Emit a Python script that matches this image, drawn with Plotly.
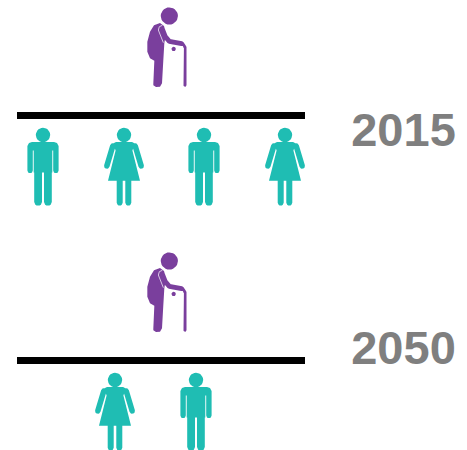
import math
import plotly.graph_objects as go

# ---- data ----
years = ["2015", "2050"]
elders_per_year = [1, 1]
workers_per_year = [["man", "woman", "man", "woman"], ["woman", "man"]]

# ---- layout ----
W, H = 467, 450
bar_y = [115.5, 360.5]
bar_x = [17, 305]
elder_x = 169
worker_x = [[43, 124, 204, 285], [115, 196]]
label_x = 403.5
label_y = [134.5, 352]
TEAL = "#1fbdb3"
PURPLE = "#7a3f9d"
GREY = "#7f7f7f"


def circle(cx, cy, r, n=28):
    return [(cx + r * math.cos(2 * math.pi * i / n), cy + r * math.sin(2 * math.pi * i / n)) for i in range(n + 1)]


def capsule(x0, y0, x1, y1, w, n=8):
    a = math.atan2(y1 - y0, x1 - x0)
    r = w / 2
    pts = []
    for i in range(n + 1):
        t = a - math.pi / 2 + math.pi * i / n
        pts.append((x1 + r * math.cos(t), y1 + r * math.sin(t)))
    for i in range(n + 1):
        t = a + math.pi / 2 + math.pi * i / n
        pts.append((x0 + r * math.cos(t), y0 + r * math.sin(t)))
    pts.append(pts[0])
    return pts


def polyline(pts, w):
    return [capsule(*pts[i], *pts[i + 1], w) for i in range(len(pts) - 1)]


def same_winding(part):
    area = sum(part[i][0] * part[i + 1][1] - part[i + 1][0] * part[i][1] for i in range(len(part) - 1))
    return part if area > 0 else part[::-1]


# glyph parts: offsets in px from (figure x, bar centre)
MAN = [
    circle(0, 19.5, 7.2),
    [(-11, 26.5), (11, 26.5), (14, 27.5), (15.6, 30.5), (15.6, 35), (-15.6, 35), (-15.6, 30.5), (-14, 27.5), (-11, 26.5)],
    [(-9.3, 30), (9.3, 30), (9.3, 57), (-9.3, 57), (-9.3, 30)],
    capsule(-12.9, 33, -12.9, 55, 5.4),
    capsule(12.9, 33, 12.9, 55, 5.4),
    capsule(-4.9, 54, -4.9, 86.4, 7.8),
    capsule(4.9, 54, 4.9, 86.4, 7.8),
]
WOMAN = [
    circle(0, 19.5, 7.2),
    [(-8, 26.5), (8, 26.5), (11, 28), (8.4, 35), (16, 65.2), (-16, 65.2), (-8.4, 35), (-11, 28), (-8, 26.5)],
    capsule(-11.2, 30.5, -17.2, 50.5, 5.6),
    capsule(11.2, 30.5, 17.2, 50.5, 5.6),
    capsule(-4.3, 62, -4.3, 87.2, 6),
    capsule(4.3, 62, 4.3, 87.2, 6),
]
E = lambda zx, zy: (zx / 3 + 130 - elder_x, zy / 3 - 115.5)
ELDER_BODY = [
    [E(*p) for p in [(90, 69), (72, 76), (60, 95), (52, 125), (52, 155), (60, 175), (73, 182), (70, 250), (70, 256),
                     (78, 261), (90, 260), (96, 250), (100, 180), (103, 130), (108, 100), (102, 78), (90, 69)]],
    circle(*E(118, 48), 8.6),
    circle(*E(131, 147), 2.2),
] + polyline([E(96, 84), E(106, 110), E(118, 124), E(155, 131)], 4.8)
ELDER_CANE = polyline([E(152, 131), E(160, 133), E(165, 142), E(165, 256)], 3.0)
ELDER_GAP = [E(*p) for p in [(97, 76), (88, 80), (85, 90), (92, 110), (100, 128)]]


def to_xy(parts, ox, oy):
    xs, ys = [], []
    for part in parts:
        part = same_winding(part)
        xs += [ox + p[0] for p in part] + [None]
        ys += [oy + p[1] for p in part] + [None]
    return xs, ys


fig = go.Figure()


def add_glyph(parts, ox, oy, color):
    xs, ys = to_xy(parts, ox, oy)
    fig.add_trace(go.Scatter(x=xs, y=ys, mode="lines", fill="toself", fillcolor=color,
                             line=dict(width=0, color=color), hoverinfo="skip", showlegend=False))


for yi, year in enumerate(years):
    fig.add_trace(go.Scatter(x=bar_x, y=[bar_y[yi]] * 2, mode="lines",
                             line=dict(color="#000000", width=7), hoverinfo="skip", showlegend=False))
    for _ in range(elders_per_year[yi]):
        add_glyph(ELDER_BODY + ELDER_CANE, elder_x, bar_y[yi], PURPLE)
        gx, gy = to_xy([ELDER_GAP], elder_x, bar_y[yi])
        fig.add_trace(go.Scatter(x=gx, y=gy, mode="lines", line=dict(width=1, color="#d9c8e4"),
                                 hoverinfo="skip", showlegend=False))
    for kind, x in zip(workers_per_year[yi], worker_x[yi]):
        add_glyph(MAN if kind == "man" else WOMAN, x, bar_y[yi], TEAL)

fig.add_trace(go.Scatter(x=[label_x] * 2, y=label_y, mode="text", text=years, textposition="middle center",
                         textfont=dict(family="Liberation Sans", size=47, color=GREY, weight="bold"),
                         hoverinfo="skip", showlegend=False))

fig.update_layout(
    width=W, height=H, margin=dict(l=0, r=0, t=0, b=0),
    paper_bgcolor="white", plot_bgcolor="white",
    xaxis=dict(range=[0, W], visible=False, fixedrange=True),
    yaxis=dict(range=[H, 0], visible=False, fixedrange=True),
)
fig.write_html("out.html", config={"displayModeBar": False},
               post_script="document.body.style.margin='0';document.documentElement.style.overflow='hidden';")
